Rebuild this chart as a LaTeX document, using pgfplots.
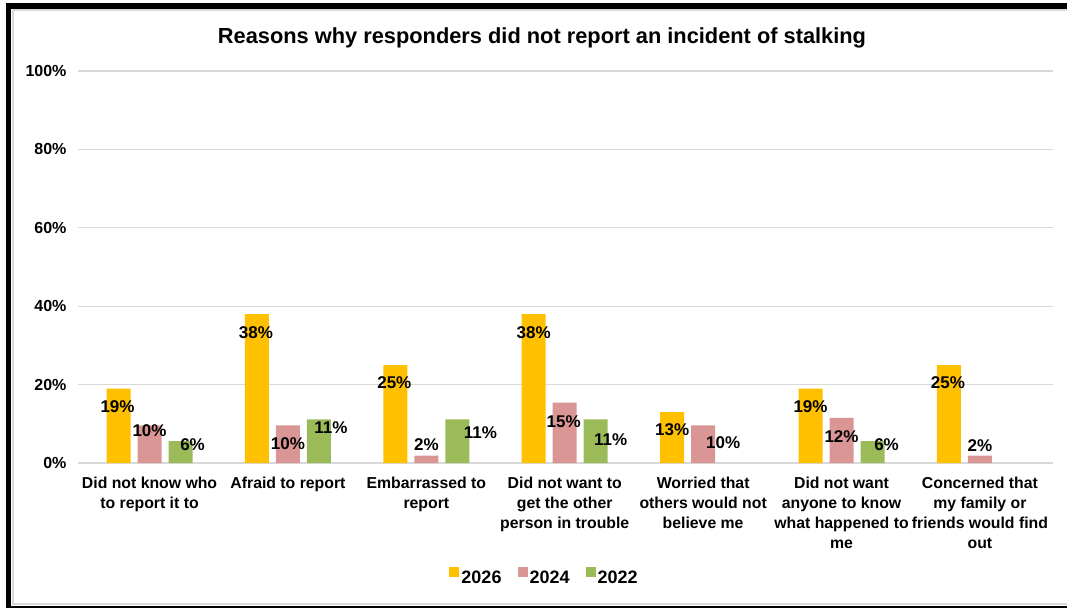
\documentclass[border=0pt]{standalone}
\usepackage{pgfplots}
\pgfplotsset{compat=1.18}
\usepackage{pgfplotstable}
\usepackage{fontspec}
\setmainfont{Liberation Sans}
\definecolor{cy}{HTML}{FFC000}
\definecolor{cp}{HTML}{DA9694}
\definecolor{cg}{HTML}{9BBB59}
\definecolor{gridc}{HTML}{D9D9D9}

\pgfplotstableread{
x y lab dx dy
0 19 19 -1 -18
1 38 38 -1 -19
2 25 25 -1 -18
3 38 38 0 -19
4 13 13 0 -18
5 19 19 0 -18
6 25 25 -1 -18
}\tA
\pgfplotstableread{
x y lab dx dy
0 9.6 10 0 -5
1 9.6 10 0 -18
2 1.9 2 0 11
3 15.4 15 -1 -19
4 9.6 10 20 -17
5 11.5 12 0 -19
6 1.9 2 0 10
}\tB
\pgfplotstableread{
x y lab dx dy
0 5.6 6 12 -4
1 11.1 11 12 -8
2 11.1 11 23 -13
3 11.1 11 15 -20
5 5.6 6 14 -4
}\tC

\pgfplotsset{
  lbl/.style={
    nodes near coords={\pgfplotspointmeta\%},
    point meta=explicit symbolic,
    visualization depends on={\thisrow{dx}\as\dx},
    visualization depends on={\thisrow{dy}\as\dy},
    nodes near coords align={center},
    every node near coord/.append style={anchor=center, inner sep=0pt,
      xshift=\dx*1pt, yshift=\dy*1pt,
      font=\fontsize{17}{19}\bfseries\selectfont, text=black},
  }
}

\begin{document}
\begin{tikzpicture}
\path[use as bounding box] (0pt,0pt) rectangle (1067pt,608pt);
% frame
\fill[black] (6pt,0pt) rectangle (11pt,605pt);
\fill[black] (6pt,599pt) rectangle (1067pt,605pt);
\fill[black] (6pt,0pt) rectangle (1067pt,2pt);
\draw[gridc, line width=1.5pt] (1067pt,3.8pt) -- (13pt,3.8pt) -- (13pt,598pt) -- (1067pt,598pt);
\node[anchor=base, font=\fontsize{21.8}{26}\bfseries\selectfont] at (542pt,564pt)
  {Reasons why responders did not report an incident of stalking};
\begin{axis}[
  at={(78pt,145pt)}, anchor=south west,
  scale only axis, width=975pt, height=392pt,
  ybar=7pt, bar width=24pt,
  xmin=-0.517, xmax=6.528, ymin=0, ymax=100,
  clip=false,
  xtick={0,...,6},
  xticklabels={{Did not know who\\to report it to},{Afraid to report},{Embarrassed to\\report},{Did not want to\\get the other\\person in trouble},{Worried that\\others would not\\believe me},{Did not want\\anyone to know\\what happened to\\me},{Concerned that\\my family or\\friends would find\\out}},
  xticklabel style={align=center, anchor=north, yshift=-11pt,
    font=\fontsize{15.8}{20}\bfseries\selectfont},
  ytick={0,20,...,100},
  yticklabels={0\%,20\%,40\%,60\%,80\%,100\%},
  yticklabel style={anchor=east, xshift=-8pt, font=\fontsize{16}{18}\bfseries\selectfont},
  ymajorgrids, grid style={gridc, line width=1.3pt},
  axis line style={draw=none},
  major tick length=0pt,
  legend style={at={(0.4785,-0.291)}, anchor=center, draw=none, fill=none,
    legend columns=3, font=\fontsize{18}{20}\bfseries\selectfont,
    /tikz/every even column/.append style={column sep=14pt},
    nodes={inner sep=2pt}},
  legend image code/.code={\fill[#1] (0pt,1pt) rectangle (10pt,11pt);},
]
\addplot[fill=cy, draw=none, lbl] table[x=x, y=y, meta=lab] {\tA};
\addplot[fill=cp, draw=none, lbl] table[x=x, y=y, meta=lab] {\tB};
\addplot[fill=cg, draw=none, lbl] table[x=x, y=y, meta=lab] {\tC};
\legend{2026,2024,2022}
\end{axis}
\end{tikzpicture}
\end{document}
